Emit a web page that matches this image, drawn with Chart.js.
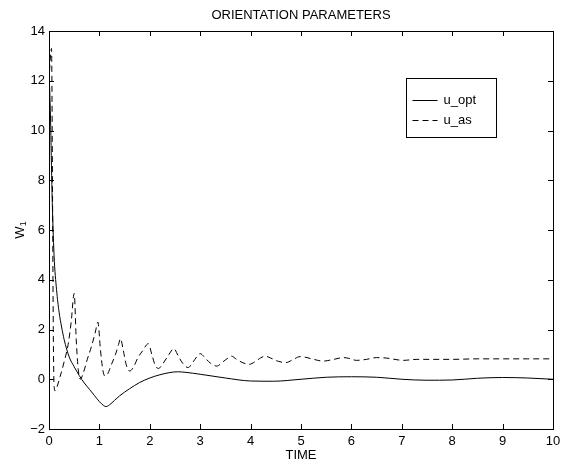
<!DOCTYPE html>
<html><head><meta charset="utf-8">
<script src="https://cdn.jsdelivr.net/npm/chart.js@4/dist/chart.umd.min.js"></script>
<style>html,body{margin:0;padding:0;background:#fff}canvas{display:block}</style>
</head><body><canvas id="c" width="568" height="464" style="width:568px;height:464px"></canvas>
<script>
const titleText = "ORIENTATION PARAMETERS";
const xTitle = "TIME";
const yTitleMain = "W";
const yTitleSub = "1";
const seriesNames = ["u_opt", "u_as"];
const xTicks = [0,1,2,3,4,5,6,7,8,9,10];
const yTicks = [-2,0,2,4,6,8,10,12,14];

const optTime = [0,0.03,0.06,0.1,0.15,0.2,0.25,0.3,0.4,0.5,0.6,0.7,0.8,0.9,1.0,1.08,1.13,1.2,1.3,1.4,1.6,1.8,2.0,2.2,2.4,2.55,2.7,3.0,3.5,4.0,4.45,5.0,5.5,6.0,6.5,7.0,7.5,8.0,8.5,9.0,9.5,10];
const optVal  = [12.5,10.5,7.5,5.0,3.6,2.7,2.1,1.6,0.9,0.5,0.15,-0.15,-0.4,-0.65,-0.9,-1.05,-1.1,-1.03,-0.85,-0.67,-0.38,-0.13,0.05,0.18,0.27,0.3,0.28,0.2,0.05,-0.07,-0.08,0.0,0.08,0.1,0.08,0.0,-0.04,-0.03,0.04,0.07,0.05,0.0];

const asTime = [0,0.03,0.05,0.07,0.085,0.1,0.12,0.16,0.22,0.3,0.38,0.44,0.5,0.54,0.58,0.62,0.68,0.76,0.84,0.92,0.97,1.02,1.07,1.11,1.16,1.24,1.32,1.38,1.42,1.47,1.53,1.6,1.68,1.76,1.86,1.97,2.04,2.1,2.17,2.25,2.35,2.48,2.56,2.65,2.76,2.86,2.95,3.0,3.1,3.2,3.33,3.45,3.55,3.62,3.72,3.85,3.97,4.1,4.2,4.29,4.4,4.55,4.7,4.85,4.98,5.1,5.25,5.44,5.65,5.84,5.95,6.1,6.3,6.5,6.7,7.03,7.3,7.6,8.0,8.5,9.0,9.5,10];
const asVal  = [12.0,13.0,13.3,7.5,2.0,-0.2,-0.47,-0.3,0.1,0.7,1.4,2.3,3.45,1.6,0.4,0.0,0.25,0.8,1.3,1.9,2.3,1.2,0.35,0.13,0.2,0.6,1.0,1.4,1.63,1.2,0.6,0.33,0.5,0.85,1.15,1.43,1.0,0.6,0.43,0.6,0.9,1.23,0.95,0.65,0.47,0.7,0.95,1.03,0.85,0.65,0.53,0.7,0.85,0.93,0.8,0.66,0.6,0.72,0.86,0.93,0.85,0.72,0.67,0.8,0.91,0.88,0.8,0.73,0.8,0.87,0.84,0.76,0.8,0.87,0.85,0.76,0.8,0.8,0.8,0.82,0.82,0.82,0.82];

const FONT = "'Liberation Sans', Arial, Helvetica, sans-serif";
const FS = 13;
const toPts = (xs, ys) => xs.map((x, i) => ({x: x, y: ys[i]}));
const fmt = v => (v < 0 ? '\u2212' + Math.abs(v) : String(v));

const decor = {
  id: 'decor',
  afterDraw(chart) {
    const ctx = chart.ctx, a = chart.chartArea;
    const xs = chart.scales.x, ys = chart.scales.y;
    ctx.save();
    ctx.strokeStyle = '#000'; ctx.lineWidth = 1;
    ctx.strokeRect(Math.round(a.left)+0.5, Math.round(a.top)+0.5, Math.round(a.right-a.left), Math.round(a.bottom-a.top));
    ctx.beginPath();
    const tl = 5;
    xTicks.forEach(v => {
      const px = Math.round(xs.getPixelForValue(v)) + 0.5;
      ctx.moveTo(px, a.bottom); ctx.lineTo(px, a.bottom - tl);
      ctx.moveTo(px, a.top); ctx.lineTo(px, a.top + tl);
    });
    yTicks.forEach(v => {
      const py = Math.round(ys.getPixelForValue(v)) + 0.5;
      ctx.moveTo(a.left, py); ctx.lineTo(a.left + tl, py);
      ctx.moveTo(a.right, py); ctx.lineTo(a.right - tl, py);
    });
    ctx.stroke();
    ctx.fillStyle = '#000';
    ctx.font = FS + 'px ' + FONT;
    ctx.textAlign = 'center'; ctx.textBaseline = 'middle';
    ctx.fillText(titleText, (a.left + a.right) / 2, 15);
    ctx.fillText(xTitle, (a.left + a.right) / 2, 455);
    ctx.save();
    ctx.translate(20, (a.top + a.bottom) / 2);
    ctx.rotate(-Math.PI / 2);
    ctx.textAlign = 'left';
    const wW = ctx.measureText(yTitleMain).width;
    ctx.font = '9px ' + FONT;
    const sW = ctx.measureText(yTitleSub).width;
    const startX = -(wW + sW) / 2;
    ctx.font = FS + 'px ' + FONT;
    ctx.fillText(yTitleMain, startX, 0);
    ctx.font = '9px ' + FONT;
    ctx.fillText(yTitleSub, startX + wW, 4);
    ctx.restore();
    const lx = 406.5, ly = 78.5, lw = 90, lh = 59;
    ctx.fillStyle = '#fff';
    ctx.fillRect(lx, ly, lw, lh);
    ctx.strokeStyle = '#000'; ctx.lineWidth = 1;
    ctx.strokeRect(lx, ly, lw, lh);
    ctx.font = FS + 'px ' + FONT;
    ctx.textAlign = 'left'; ctx.textBaseline = 'middle';
    chart.data.datasets.forEach((ds, i) => {
      const yy = Math.round(ly + 21 + i * 20) + 0.5;
      ctx.beginPath();
      ctx.setLineDash(ds.borderDash || []);
      ctx.moveTo(lx + 6, yy); ctx.lineTo(lx + 31, yy);
      ctx.stroke();
      ctx.setLineDash([]);
      ctx.fillStyle = '#000';
      ctx.fillText(ds.label, lx + 37, yy);
    });
    ctx.restore();
  }
};

new Chart(document.getElementById('c'), {
  type: 'line',
  data: {
    datasets: [
      {label: seriesNames[0], data: toPts(optTime, optVal), borderColor: '#000', borderWidth: 1, pointRadius: 0, cubicInterpolationMode: 'monotone', fill: false},
      {label: seriesNames[1], data: toPts(asTime, asVal), borderColor: '#000', borderWidth: 1, borderDash: [6,4], pointRadius: 0, cubicInterpolationMode: 'monotone', fill: false}
    ]
  },
  options: {
    responsive: false, maintainAspectRatio: false, animation: false, devicePixelRatio: 1,
    layout: {padding: {top: 31, right: 15, left: 0, bottom: 0}},
    plugins: {legend: {display: false}, title: {display: false}, tooltip: {enabled: false}},
    scales: {
      x: {type: 'linear', min: 0, max: 10,
          afterBuildTicks: s => { s.ticks = xTicks.map(v => ({value: v})); },
          afterFit: s => { s.height = 35; },
          grid: {display: false, drawTicks: false}, border: {display: false},
          ticks: {color: '#000', padding: 5, font: {size: FS, family: FONT}, maxRotation: 0, callback: v => fmt(v)}},
      y: {type: 'linear', min: -2, max: 14,
          afterBuildTicks: s => { s.ticks = yTicks.map(v => ({value: v})); },
          afterFit: s => { s.width = 49; },
          grid: {display: false, drawTicks: false}, border: {display: false},
          ticks: {color: '#000', padding: 4, font: {size: FS, family: FONT}, callback: v => fmt(v)}}
    }
  },
  plugins: [decor]
});
</script>
</body></html>
